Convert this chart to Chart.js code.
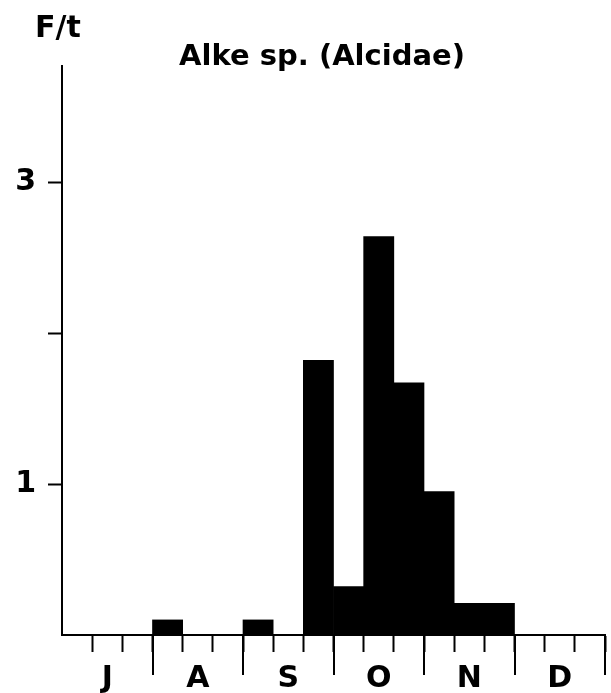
<!DOCTYPE html>
<html>
<head>
<meta charset="utf-8">
<script src="https://cdn.jsdelivr.net/npm/chart.js@4/dist/chart.umd.min.js"></script>
<style>
  body { margin: 0; background: #fff; }
  #wrap { width: 611px; height: 693px; }
</style>
</head>
<body>
<div id="wrap"><canvas id="alkChart" width="611" height="693"></canvas></div>
<script>
// dekads (10-day periods) from July to December
const dekads = [
    'Jul I', 'Jul II', 'Jul III', 'Aug I', 'Aug II', 'Aug III',
    'Sep I', 'Sep II', 'Sep III', 'Oct I', 'Oct II', 'Oct III',
    'Nov I', 'Nov II', 'Nov III', 'Dec I', 'Dec II', 'Dec III'
];
const months = ['J', 'A', 'S', 'O', 'N', 'D'];
// birds per hour (F/t)
const perHour = [
    0, 0, 0, 0.1, 0, 0,
    0.1, 0, 1.82, 0.32, 2.64, 1.67,
    0.95, 0.21, 0.21, 0, 0, 0
];
const yLabels = [1, 3];

const FONT = 'DejaVu Sans';

// header texts + long month ticks under the axis
const extras = {
    id: 'extras',
    afterDraw(chart) {
        const ctx = chart.ctx;
        const x = chart.scales.x;
        const bottom = chart.chartArea.bottom;
        ctx.save();
        ctx.fillStyle = '#000';
        ctx.textBaseline = 'alphabetic';
        ctx.font = 'bold 30px "' + FONT + '"';
        ctx.textAlign = 'left';
        ctx.fillText('F/t', 35, 37);
        ctx.font = 'bold 29px "' + FONT + '"';
        ctx.textAlign = 'center';
        ctx.fillText('Alke sp. (Alcidae)', 322, 65);

        ctx.strokeStyle = '#000';
        ctx.lineWidth = 2;
        for (let m = 1; m <= months.length; m++) {
            const px = Math.round(x.getPixelForValue(m * 3 - 0.5));
            ctx.beginPath();
            ctx.moveTo(px, bottom);
            ctx.lineTo(px, bottom + 40);
            ctx.stroke();
        }
        ctx.restore();
    }
};

const chart = new Chart(document.getElementById('alkChart'), {
    type: 'bar',
    data: {
        labels: dekads,
        datasets: [{
            data: perHour,
            backgroundColor: '#000',
            borderWidth: 0,
            barPercentage: 1,
            categoryPercentage: 1
        }]
    },
    options: {
        responsive: false,
        animation: false,
        layout: { padding: { top: 66, right: 6, left: 0, bottom: 0 } },
        plugins: {
            legend: { display: false },
            tooltip: { enabled: false },
            title: { display: false }
        },
        scales: {
            x: {
                afterFit: s => { s.height = 58; },
                border: { color: '#000', width: 2 },
                grid: {
                    drawOnChartArea: false,
                    tickLength: 17,
                    tickWidth: 2,
                    tickColor: c => c.index === 0 ? 'rgba(0,0,0,0)' : '#000'
                },
                ticks: {
                    autoSkip: false,
                    maxRotation: 0,
                    minRotation: 0,
                    padding: 9,
                    color: '#000',
                    font: { family: FONT, size: 30, weight: 'bold' },
                    callback: (v, i) => i % 3 === 1 ? months[(i - 1) / 3] : ''
                }
            },
            y: {
                min: 0,
                max: 3.77,
                afterFit: s => { s.width = 62; },
                border: { color: '#000', width: 2 },
                grid: {
                    drawOnChartArea: false,
                    tickLength: 14,
                    tickWidth: 2,
                    tickColor: c => c.tick && c.tick.value === 0 ? 'rgba(0,0,0,0)' : '#000'
                },
                ticks: {
                    stepSize: 1,
                    includeBounds: false,
                    padding: 12,
                    color: '#000',
                    font: { family: FONT, size: 30, weight: 'bold' },
                    callback: v => yLabels.includes(v) ? String(v) : ''
                }
            }
        }
    },
    plugins: [extras]
});
</script>
</body>
</html>
